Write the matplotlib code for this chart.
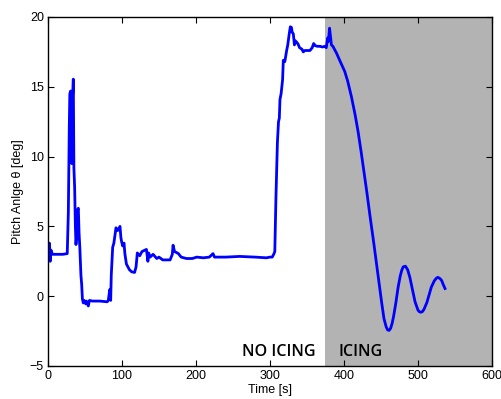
import matplotlib
matplotlib.use("Agg")
import matplotlib.pyplot as plt

# pitch angle trace
time_s = [0, 1, 2, 3, 4, 6, 10, 20, 26, 27.5, 28.8, 29.5, 30.6, 31.2, 32, 33, 34.2, 35, 36, 37,
          37.8, 39, 40, 41, 42, 43, 44.5, 45.5, 46.5, 47.7, 49, 51, 52, 54.5, 56, 60, 70, 80, 81.5,
          83, 83.8, 84.7, 85.5, 87.4, 89, 91.9, 94, 97.3, 98.5, 99.5, 101, 102.7, 104, 106, 108,
          110, 113, 117, 119, 120.7, 124, 127, 131, 133, 135, 136, 138, 142, 147, 150, 155, 160,
          165, 168, 169, 171, 176, 180, 187, 195, 201, 210, 218, 223, 225, 240, 259, 280, 295,
          300, 303, 305, 306.5, 308, 310, 311.5, 312.6, 313.5, 315, 317, 318, 320, 322.5, 324,
          326, 327.5, 329, 330, 331.5, 333, 334, 336, 338, 340, 343, 345, 347, 350, 354, 357,
          359, 361, 364, 367.6, 371, 374, 376, 378, 379, 380.5, 381.5, 383, 385, 387,
          390, 395, 401, 405, 410, 415, 419, 423, 427, 431, 435, 440, 444, 448, 451, 454, 457,
          459, 461, 463, 465, 467, 470, 473, 476, 478, 480, 483, 486, 489, 492, 496, 500, 502,
          504, 506, 508, 512, 515, 518, 522, 525, 527, 530, 532, 534, 536.5]
pitch_deg = [3.5, 2.6, 3.8, 2.5, 3.3, 3.0, 3.0, 3.0, 3.05, 6.0, 12.3, 14.5, 14.7, 10.5, 9.5, 14.0,
             15.55, 9.2, 7.8, 5.0, 3.7, 4.5, 6.2, 6.3, 4.5, 3.5, 1.5, 0.85, -0.2, -0.48, -0.3,
             -0.55, -0.35, -0.7, -0.3, -0.35, -0.35, -0.4, -0.3, 0.3, 0.5, -0.3, 1.5, 3.5, 3.8,
             4.9, 4.7, 5.0, 4.2, 3.9, 3.6, 3.8, 3.0, 2.3, 2.1, 1.9, 1.75, 1.7, 2.1, 3.1, 2.9, 3.2,
             3.3, 3.35, 2.5, 3.1, 2.8, 3.0, 2.7, 2.8, 2.6, 2.6, 2.6, 3.0, 3.65, 3.2, 3.06, 2.8,
             2.7, 2.7, 2.8, 2.75, 2.8, 3.05, 2.8, 2.8, 2.85, 2.8, 2.75, 2.8, 2.8, 3.0, 3.2, 7.0,
             11.0, 12.5, 12.75, 14.1, 14.5, 15.5, 16.9, 16.8, 17.6, 18.0, 18.8, 19.3, 19.25, 18.9,
             18.8, 18.0, 18.3, 18.2, 18.05, 17.8, 17.7, 17.5, 17.6, 17.6, 17.6, 17.8, 18.1, 17.95,
             17.9, 17.9, 17.85, 17.9, 17.8, 18.5, 18.25, 19.2, 18.7, 18.0, 17.9, 17.7,
             17.4, 16.8, 16.1, 15.4, 14.3, 13.0, 11.8, 10.4, 8.9, 7.4, 5.8, 3.9, 2.3, 0.7, -0.5,
             -1.6, -2.2, -2.42, -2.45, -2.3, -1.95, -1.45, -0.5, 0.6, 1.45, 1.85, 2.1, 2.15, 1.9,
             1.35, 0.6, -0.4, -1.0, -1.12, -1.15, -1.1, -0.95, -0.45, 0.1, 0.65, 1.1, 1.3, 1.35,
             1.25, 1.12, 0.85, 0.55]

icing_start = 374
x_ticks = [0, 100, 200, 300, 400, 500, 600]
y_ticks = [-5, 0, 5, 10, 15, 20]

plt.rcParams['font.family'] = ['Liberation Sans', 'DejaVu Sans']

fig = plt.figure(figsize=(5.02, 3.99), dpi=100)
ax = fig.add_axes([48 / 502, 1 - 366 / 399, 444 / 502, 349 / 399])

ax.axvspan(icing_start, 600, color='#b3b3b3', lw=0, zorder=0)
ax.plot(time_s, pitch_deg, color='#0000ff', lw=2.0, zorder=2)

ax.text(262, -4.3, 'NO ICING', fontsize=11.5, family=['Open Sans', 'DejaVu Sans'],
        fontweight='semibold')
ax.text(392, -4.3, 'ICING', fontsize=11.5, family=['Open Sans', 'DejaVu Sans'],
        fontweight='semibold')

ax.set_xlim(0, 600)
ax.set_ylim(-5, 20)
ax.set_xticks(x_ticks)
ax.set_yticks(y_ticks)
ax.tick_params(direction='in', top=True, right=True, length=4, width=0.8,
               labelsize=9, pad=3)
for s in ax.spines.values():
    s.set_linewidth(1.0)

ax.set_xlabel('Time [s]', fontsize=9, labelpad=1)
ax.set_ylabel('Pitch Anlge θ [deg]', fontsize=9, labelpad=4)

fig.savefig('out.png', dpi=100)
